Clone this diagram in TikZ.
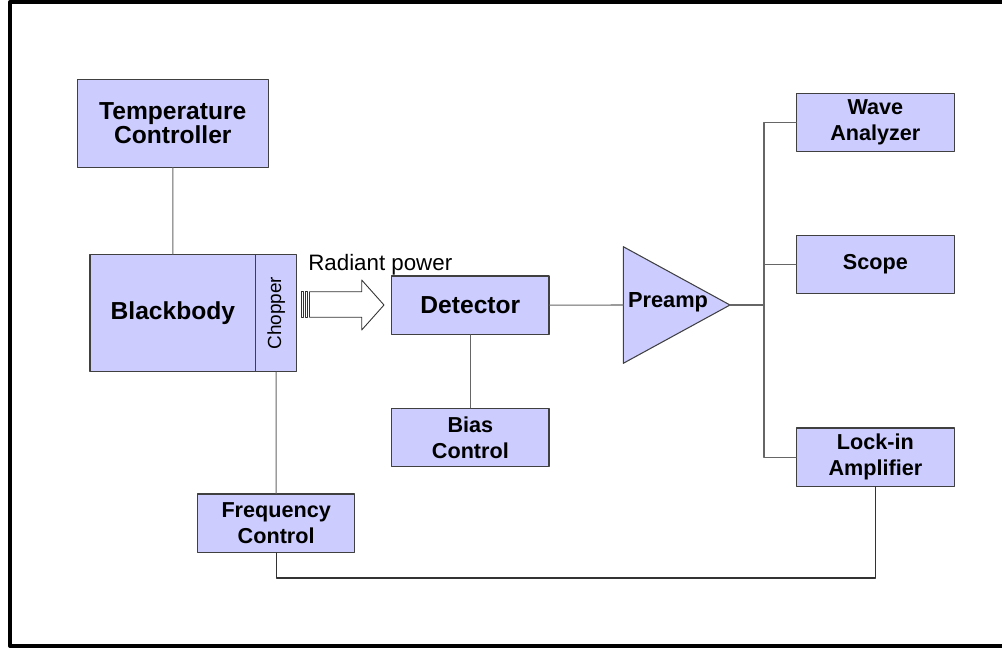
\documentclass[tikz,border=0pt]{standalone}
\usepackage{fontspec}
\setmainfont{Liberation Sans}
\definecolor{boxfill}{RGB}{204,204,255}
\tikzset{
  unit/.style={draw=black!75, fill=boxfill, line width=0.6pt, align=center, inner sep=0pt,
    minimum width=3.15cm, minimum height=1.167cm, font=\bfseries\fontsize{12.3}{14.7}\selectfont},
  bigunit/.style={unit, font=\bfseries\fontsize{14}{13.6}\selectfont},
  wire/.style={draw=black!60, line width=0.6pt},
}
\begin{document}
\begin{tikzpicture}[x=0.02cm, y=-0.02cm, line cap=round, line join=round]
      \useasboundingbox (0,0) rectangle (1002,649);

      \draw[line width=2.3pt, line cap=butt] (1012,2) -- (10,2) -- (10,646) -- (1012,646);

      \node[bigunit, minimum width=3.82cm, minimum height=1.754cm] (tc) at (172.8,123.2) {Temperature\\Controller};
      \node[bigunit, minimum width=3.314cm, minimum height=2.34cm] (bb) at (172.85,313.2) {Blackbody};
      \node[unit, minimum width=0.82cm, minimum height=2.34cm] (chop) at (276.2,313.2) {};
      \node[rotate=90, font=\fontsize{10.8}{12}\selectfont] (choptext) at (chop.center) {Chopper};

      \draw[black!80, line width=0.5pt, fill=white] (301.7,291.7) rectangle (303.5,317.3);
      \draw[black!80, line width=0.5pt, fill=white] (305.4,291.7) rectangle (307.6,317.3);
      \draw[black!80, line width=0.5pt, fill=white] (309.5,291.7) -- (361.7,291.7) -- (361.7,280)
        -- (384,305) -- (361.7,330) -- (361.7,317.3) -- (309.5,317.3) -- cycle;
      \node[anchor=base west, inner sep=0pt, font=\fontsize{12.7}{14}\selectfont] (rp) at (308,270) {Radiant power};

      \node[bigunit, minimum width=3.146cm] (det) at (470.35,305.15) {Detector};
      \node[unit, minimum width=3.146cm] (bias) at (470.35,437.5) {Bias\\Control};
      \node[unit] (fc) at (276.15,523.15) {Frequency\\Control};

      \draw[draw=black!75, fill=boxfill, line width=0.6pt] (623.3,246.7) -- (730,305) -- (623.3,363.3) -- cycle;
      \coordinate (pain) at (623.3,305);
      \coordinate (paout) at (730,305);
      \node[font=\bfseries\fontsize{12.4}{14}\selectfont, inner sep=0pt] (pa) at (668,302) {Preamp};

      \node[unit] (wave) at (875.35,122.5) {Wave\\Analyzer};
      \node[unit] (scope) at (875.35,264.5) {Scope};
      \node[unit] (lock) at (875.35,457.15) {Lock-in\\Amplifier};

      \coordinate (bus) at (764,305);
      \coordinate (ret) at (875.35,578);

      \draw[wire] (tc.south) -- (bb.north);
      \draw[wire] (det.south) -- (bias.north);
      \draw[wire] (det.east) -- (pain);
      \draw[wire] (chop.south) -- (fc.north);
      \draw[wire] (paout) -- (bus);
      \draw[wire] (wave.west) -| (bus) |- (lock.west);
      \draw[wire] (scope.west) -- (scope.west -| bus);
      \draw[wire, draw=black!80] (fc.south) |- (ret) -- (lock.south);

    \end{tikzpicture}
\end{document}
